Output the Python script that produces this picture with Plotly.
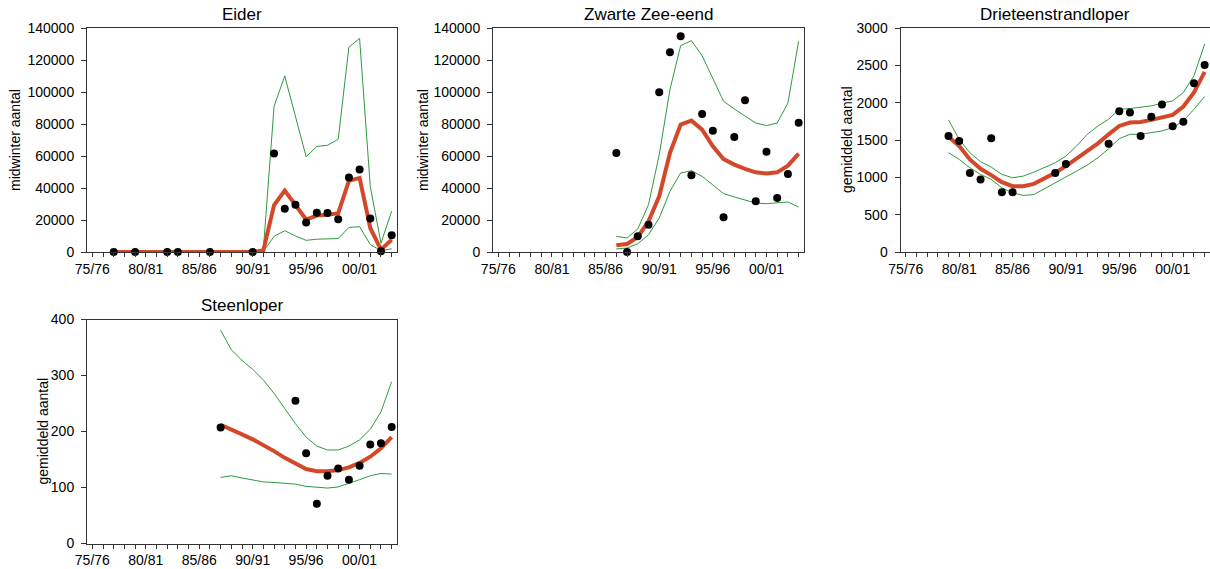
import plotly.graph_objects as go

# ---------------- data ----------------
seasons = ["75/76", "76/77", "77/78", "78/79", "79/80", "80/81", "81/82", "82/83", "83/84",
           "84/85", "85/86", "86/87", "87/88", "88/89", "89/90", "90/91", "91/92", "92/93",
           "93/94", "94/95", "95/96", "96/97", "97/98", "98/99", "99/00", "00/01", "01/02",
           "02/03", "03/04"]
labeled = ["75/76", "80/81", "85/86", "90/91", "95/96", "00/01"]
N = None

# Eider (midwinter aantal)
eider_obs = [N, N, 0, N, 0, N, N, 0, 0, N, N, 0, N, N, N, 0, N, 61500, 27000, 29500,
             18500, 24500, 24300, 20500, 46500, 51500, 21000, 400, 10500]
eider_trend = [N, N, 0, 0, 0, 0, 0, 0, 0, 0, 0, 0, 0, 0, 0, 0, 1000, 29300, 38400, 29000,
               20300, 22800, 23200, 24300, 44500, 46300, 15000, 1500, 7700]
eider_upper = [N, N, 0, 0, 0, 0, 0, 0, 0, 0, 0, 0, 0, 0, 0, 0, 2000, 91000, 110000, 85000,
               59500, 66000, 66700, 70500, 128000, 133500, 41000, 5500, 25500]
eider_lower = [N, N, 0, 0, 0, 0, 0, 0, 0, 0, 0, 0, 0, 0, 0, 0, 300, 9800, 13300, 10000,
               7300, 8000, 8100, 8400, 15400, 15800, 4700, 800, 2000]

# Zwarte Zee-eend (midwinter aantal)
zze_obs = [N, N, N, N, N, N, N, N, N, N, N, 61900, 0, 9800, 17100, 99800, 124800, 134800,
           47900, 86250, 75800, 21700, 71900, 94800, 31700, 62700, 33750, 48750, 80800]
zze_trend = [N, N, N, N, N, N, N, N, N, N, N, 4200, 5000, 9400, 19200, 34800, 61900, 79600,
             82100, 76500, 66000, 58100, 54600, 51900, 49800, 49000, 49800, 54000, 61500]
zze_upper = [N, N, N, N, N, N, N, N, N, N, N, 9800, 8750, 14400, 29600, 60800, 101500, 129000,
             132100, 122700, 108300, 94200, 89400, 85200, 80600, 79000, 80600, 93100, 131700]
zze_lower = [N, N, N, N, N, N, N, N, N, N, N, 1900, 2500, 5200, 10800, 21250, 37900, 49400,
             50800, 47300, 42100, 36500, 34400, 32700, 30600, 30200, 30600, 31250, 28100]

# Drieteenstrandloper (gemiddeld aantal)
dts_obs = [N, N, N, N, 1554, 1487, 1057, 972, 1522, 801, 801, N, N, N, 1057, 1178, N, N, N,
           1451, 1885, 1867, 1554, 1813, 1974, 1683, 1746, 2261, 2503]
dts_trend = [N, N, N, N, 1545, 1420, 1240, 1115, 1030, 936, 882, 882, 913, 980, 1061, 1150,
             1249, 1352, 1455, 1576, 1688, 1733, 1742, 1769, 1800, 1836, 1948, 2136, 2413]
dts_upper = [N, N, N, N, 1769, 1509, 1330, 1209, 1137, 1039, 994, 1016, 1070, 1128, 1195, 1285,
             1420, 1576, 1688, 1778, 1912, 1921, 1934, 1957, 1992, 2024, 2136, 2360, 2785]
dts_lower = [N, N, N, N, 1330, 1240, 1128, 1039, 972, 860, 793, 757, 770, 846, 927, 1007,
             1083, 1164, 1263, 1383, 1518, 1576, 1576, 1599, 1621, 1666, 1755, 1912, 2082]

# Steenloper (gemiddeld aantal)
stl_obs = [N, N, N, N, N, N, N, N, N, N, N, N, 207, N, N, N, N, N, N, 255, 161, 71, 121, 134,
           114, 139, 177, 179, 208]
stl_trend = [N, N, N, N, N, N, N, N, N, N, N, N, 212, 204, 195, 186, 176, 165, 153, 142, 133,
             129, 129, 131, 136, 144, 155, 170, 190]
stl_upper = [N, N, N, N, N, N, N, N, N, N, N, N, 381, 346, 327, 311, 292, 268, 241, 214, 190,
             174, 167, 167, 174, 185, 204, 235, 289]
stl_lower = [N, N, N, N, N, N, N, N, N, N, N, N, 118, 121, 117, 113, 110, 109, 108, 106, 102,
             100, 99, 101, 107, 114, 121, 125, 124]

panels = [
    ("Eider", "midwinter aantal", eider_obs, eider_trend, eider_upper, eider_lower, 140000, 20000),
    ("Zwarte Zee-eend", "midwinter aantal", zze_obs, zze_trend, zze_upper, zze_lower, 140000, 20000),
    ("Drieteenstrandloper", "gemiddeld aantal", dts_obs, dts_trend, dts_upper, dts_lower, 3000, 500),
    ("Steenloper", "gemiddeld aantal", stl_obs, stl_trend, stl_upper, stl_lower, 400, 100),
]

# ---------------- layout geometry (px) ----------------
W, H = 1210, 569
boxes = [  # left, right, top, bottom
    (87, 397, 28, 252),
    (493, 804, 28, 252),
    (900.5, 1210, 28, 252),
    (87, 397, 319.5, 543.5),
]
ytitle_x = [15, 423, 847, 42]

FONT = "Liberation Sans, Arial, sans-serif"
RED = "#D4482A"
GREEN = "#2E9A3E"
AX = "#333333"

fig = go.Figure()
layout = dict(width=W, height=H, margin=dict(l=0, r=0, t=0, b=0, pad=0, autoexpand=False),
              paper_bgcolor="white", plot_bgcolor="white", showlegend=False,
              font=dict(family=FONT, size=14, color="black"))
annotations = []

ticktext = [s if s in labeled else "" for s in seasons]

for i, (title, ytitle, obs, trend, upper, lower, ymax, dtick) in enumerate(panels):
    k = "" if i == 0 else str(i + 1)
    xa, ya = "x" + k, "y" + k
    l, r, t, b = boxes[i]
    for series, col, w in [(upper, GREEN, 1), (lower, GREEN, 1), (trend, RED, 4)]:
        fig.add_trace(go.Scatter(x=seasons, y=series, mode="lines", xaxis=xa, yaxis=ya,
                                 line=dict(color=col, width=w), connectgaps=False,
                                 hoverinfo="skip", cliponaxis=False))
    fig.add_trace(go.Scatter(x=seasons, y=obs, mode="markers", xaxis=xa, yaxis=ya,
                             cliponaxis=False,
                             marker=dict(color="black", size=8, line=dict(width=0))))
    layout["xaxis" + k] = dict(
        domain=[l / W, r / W], anchor=ya, type="category", automargin=False,
        categoryorder="array", categoryarray=seasons, range=[-0.5, 28.5],
        tickmode="array", tickvals=seasons, ticktext=ticktext,
        ticks="outside", ticklen=4, tickwidth=1, tickcolor=AX,
        showline=True, linecolor=AX, linewidth=1, mirror=True,
        showgrid=False, zeroline=False, tickfont=dict(size=14, family=FONT),
        fixedrange=True)
    layout["yaxis" + k] = dict(
        domain=[1 - b / H, 1 - t / H], anchor=xa, range=[0, ymax], dtick=dtick,
        tick0=0, ticks="outside", ticklen=5, tickwidth=1, tickcolor=AX, automargin=False,
        ticklabelstandoff=4,
        showline=True, linecolor=AX, linewidth=1, mirror=True,
        showgrid=False, zeroline=False, tickfont=dict(size=14, family=FONT),
        tickformat="d", separatethousands=False, fixedrange=True)
    annotations.append(dict(text=title, xref="paper", yref="paper",
                            x=(l + r) / 2 / W, y=1 - (t - 14) / H,
                            xanchor="center", yanchor="middle", showarrow=False,
                            font=dict(size=17, family=FONT, color="black")))
    annotations.append(dict(text=ytitle, xref="paper", yref="paper",
                            x=ytitle_x[i] / W, y=1 - ((t + b) / 2) / H,
                            xanchor="center", yanchor="middle", textangle=-90,
                            showarrow=False,
                            font=dict(size=14, family=FONT, color="black")))

layout["annotations"] = annotations
fig.update_layout(**layout)
fig.write_html("out.html", config={"displayModeBar": False, "staticPlot": True},
               post_script="document.body.style.margin='0px';"
                           "document.body.style.overflow='hidden';")
